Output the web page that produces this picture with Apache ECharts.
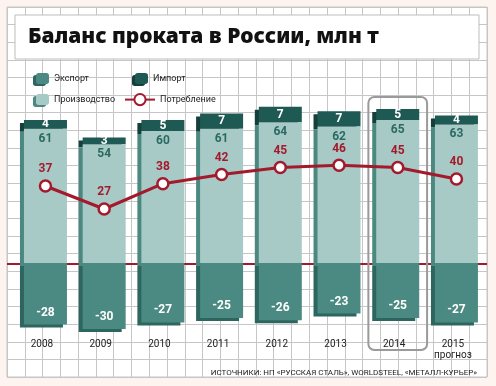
<!DOCTYPE html>
<html>
<head>
<meta charset="utf-8">
<script src="https://cdn.jsdelivr.net/npm/echarts@6/dist/echarts.min.js"></script>
<style>
html,body{margin:0;padding:0;background:#fdf3ef;}
#c{width:496px;height:386px;}
</style>
</head>
<body>
<div id="c"></div>
<script>
const years = ['2008','2009','2010','2011','2012','2013','2014','2015'];
const yearLabels = ['2008','2009','2010','2011','2012','2013','2014','2015\nпрогноз'];
const exportVals = [-28,-30,-27,-25,-26,-23,-25,-27];
const productionVals = [61,54,60,61,64,62,65,63];
const importVals = [4,3,5,7,7,7,5,4];
const consumptionVals = [37,27,38,42,45,46,45,40];
const highlightYear = '2014';
const titleText = 'Баланс проката в России, млн т';
const sourceText = 'ИСТОЧНИКИ: НП «РУССКАЯ СТАЛЬ», WORLDSTEEL, «МЕТАЛЛ-КУРЬЕР»';

const narrow = '"Liberation Sans Narrow", "Roboto", sans-serif';
const labelFont = '"Roboto", "Noto Sans", sans-serif';

const chart = echarts.init(document.getElementById('c'), null, {renderer:'canvas'});

const labelBase = {fontFamily: labelFont, fontWeight: 'bold', fontSize: 12};
const legendText = {fontFamily: narrow, fontSize: 9, color: '#222'};

const option = {
  backgroundColor: '#fdf3ef',
  animation: false,
  title: [
    {text: titleText, left: 23, top: 22,
     textStyle: {fontFamily: '"Noto Sans", sans-serif', fontWeight: 900, fontSize: 21, color: '#111'}},
    {text: sourceText, right: 14, top: 364,
     textStyle: {fontFamily: narrow, fontWeight: 'normal', fontSize: 8, color: '#222'}}
  ],
  legend: [
    {left: 31, top: 68, itemWidth: 13, itemHeight: 11, data: ['Экспорт'], selectedMode: false,
     itemStyle: {shadowColor: '#2c665f', shadowOffsetX: -3, shadowOffsetY: 2, shadowBlur: 0},
     textStyle: legendText},
    {left: 31, top: 89, itemWidth: 13, itemHeight: 11, data: ['Производство'], selectedMode: false,
     itemStyle: {shadowColor: '#4a8880', shadowOffsetX: -3, shadowOffsetY: 2, shadowBlur: 0},
     textStyle: legendText},
    {left: 130, top: 68, itemWidth: 13, itemHeight: 11, data: ['Импорт'], selectedMode: false,
     itemStyle: {shadowColor: '#153f3a', shadowOffsetX: -3, shadowOffsetY: 2, shadowBlur: 0},
     textStyle: legendText},
    {left: 119, top: 88, itemWidth: 30, itemHeight: 14, data: ['Потребление'], selectedMode: false,
     textStyle: legendText}
  ],
  grid: [
    {left: 16.1, width: 469.7, top: 87, bottom: 50.4},
    {left: 7, width: 480, top: 7, height: 370, show: true, backgroundColor: '#ffffff',
     borderColor: '#c6c6c6', borderWidth: 1, z: -1}
  ],
  xAxis: [
    {type: 'category', data: yearLabels, gridIndex: 0,
     axisLine: {show: false}, axisTick: {show: false},
     axisLabel: {margin: 3, fontFamily: narrow, fontSize: 10, color: '#222', lineHeight: 11, padding: [0,7,0,0]}},
    {type: 'value', gridIndex: 1, min: 0, max: 27, interval: 1, show: true, z: -1,
     axisLine: {show: false}, axisTick: {show: false}, axisLabel: {show: false},
     splitLine: {show: true, lineStyle: {color: '#c6c6c6', width: 1}}}
  ],
  yAxis: [
    {type: 'value', gridIndex: 0, min: -33, max: 80, show: false, splitLine: {show: false}},
    {type: 'value', gridIndex: 0, min: -28, max: 80, show: false, splitLine: {show: false}},
    {type: 'value', gridIndex: 1, min: 0, max: 21, interval: 1, z: -1,
     axisLine: {show: false}, axisTick: {show: false}, axisLabel: {show: false},
     splitLine: {show: true, lineStyle: {color: '#c6c6c6', width: 1}}}
  ],
  series: [
    {name: 'Экспорт', type: 'bar', stack: 'b', data: exportVals, barWidth: 43, z: 4,
     itemStyle: {color: '#4b8a82', shadowColor: '#2c665f', shadowOffsetX: -4, shadowOffsetY: 3, shadowBlur: 0},
     label: Object.assign({show: true, position: 'insideBottom', distance: 6, color: '#fff'}, labelBase)},
    {name: 'Производство', type: 'bar', stack: 'b', data: productionVals, barWidth: 43, z: 3,
     itemStyle: {color: '#a8cac6', shadowColor: '#4a8880', shadowOffsetX: -4, shadowOffsetY: 3, shadowBlur: 0},
     label: Object.assign({show: true, position: 'insideTop', distance: 4, color: '#2b6a62'}, labelBase)},
    {name: 'Импорт', type: 'bar', stack: 'b', data: importVals, barWidth: 43, z: 2,
     itemStyle: {color: '#1e5a53', shadowColor: '#153f3a', shadowOffsetX: -4, shadowOffsetY: 3, shadowBlur: 0},
     label: Object.assign({show: true, position: 'inside', color: '#fff'}, labelBase)},
    {name: 'Потребление', type: 'line', data: consumptionVals, yAxisIndex: 1, z: 6,
     symbol: 'circle', symbolSize: 11,
     lineStyle: {color: '#a31a2d', width: 3},
     itemStyle: {color: '#fff', borderColor: '#a31a2d', borderWidth: 2.5},
     label: Object.assign({show: true, position: 'top', distance: 4, color: '#a31a2d'}, labelBase)}
  ]
};
chart.setOption(option);

// decorations derived from the axes
const zeroY = chart.convertToPixel({yAxisIndex: 0}, 0);
const hx = chart.convertToPixel({xAxisIndex: 0}, yearLabels[years.indexOf(highlightYear)]);
const band = 469.7 / years.length;
chart.setOption({
  graphic: [
    {type: 'rect', z: 1, shape: {x: 15, y: 15, width: 464, height: 44},
     style: {fill: '#fff', stroke: '#bdbdbd', lineWidth: 1}},
    {type: 'line', z: 1, shape: {x1: 7, y1: zeroY + 1, x2: 487, y2: zeroY + 1},
     style: {stroke: '#a31a2d', lineWidth: 2}},
    {type: 'rect', z: 1, shape: {x: hx - band/2, y: 97, width: band, height: 253, r: 6},
     style: {fill: 'rgba(0,0,0,0)', stroke: '#9a9a9a', lineWidth: 2}}
  ]
});
</script>
</body>
</html>
